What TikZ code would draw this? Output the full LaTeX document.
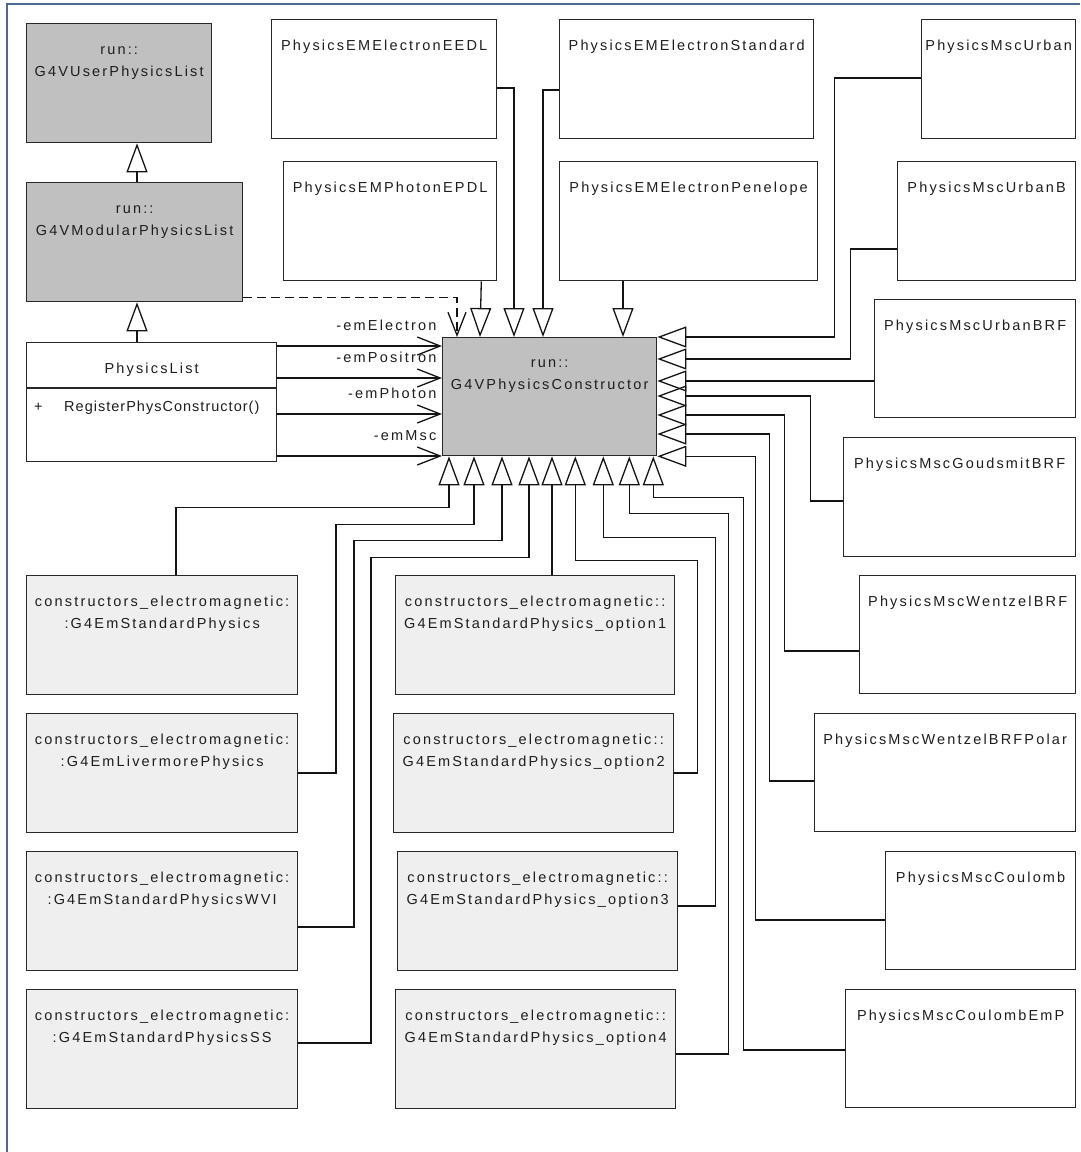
\documentclass[tikz,border=0pt]{standalone}
\usepackage{fontspec}
\setmainfont{Liberation Sans}[LetterSpace=15]
\usetikzlibrary{arrows.meta}
\definecolor{frameblue}{RGB}{74,106,145}
\definecolor{boxline}{RGB}{40,40,40}
\definecolor{linecol}{RGB}{20,20,20}
\definecolor{txtcol}{RGB}{30,30,30}
\definecolor{abstractgray}{RGB}{192,192,192}
\definecolor{constgray}{RGB}{239,239,239}
\newcommand\st{\rule{0pt}{10pt}}
\begin{document}
\begin{tikzpicture}[x=1pt,y=-1pt,
  box/.style={draw=boxline, line width=1.3pt, rectangle, inner sep=0pt, anchor=north west, fill=white},
  abox/.style={box, fill=abstractgray},
  cbox/.style={box, fill=constgray},
  txt/.style={anchor=north, inner sep=0pt, align=center, font=\fontsize{14.5}{22}\selectfont, text=txtcol},
  lbl/.style={anchor=base east, inner sep=0pt, font=\fontsize{14.5}{22}\selectfont, text=txtcol},
  gen/.style={draw=linecol, line width=1.3pt, -{Triangle[open, length=29pt, width=21pt]}},
  assoc/.style={draw=linecol, line width=1.3pt, -{Straight Barb[length=23pt, width=18pt]}},
  dep/.style={assoc, dash pattern=on 9pt off 5pt},
  frm/.style={draw=frameblue, line width=1.6pt}
]
\useasboundingbox (0,0) rectangle (1080,1152);
\draw[frm] (7,1152) -- (7,4) -- (1080,4);

% ---- boxes ----
\node[abox, minimum width=185pt, minimum height=119pt] (uspl) at (26,23) {};
\node[abox, minimum width=216pt, minimum height=119pt] (mpl) at (26,182) {};
\node[box, minimum width=250pt, minimum height=119pt] (pl) at (26,342) {};
\node[box, minimum width=225pt, minimum height=119pt] (eedl) at (271,19) {};
\node[box, minimum width=213pt, minimum height=119pt] (epdl) at (283,161) {};
\node[box, minimum width=254pt, minimum height=119pt] (estd) at (559,19) {};
\node[box, minimum width=258pt, minimum height=119pt] (epen) at (559,161) {};
\node[box, minimum width=154pt, minimum height=119pt] (urban) at (921,19) {};
\node[box, minimum width=178pt, minimum height=119pt] (urbanb) at (897,161) {};
\node[box, minimum width=201pt, minimum height=118pt] (urbanbrf) at (874,299) {};
\node[box, minimum width=232pt, minimum height=119pt] (goud) at (843,437) {};
\node[box, minimum width=216pt, minimum height=118pt] (wentzel) at (859,575) {};
\node[box, minimum width=261pt, minimum height=118pt] (wentzelp) at (814,713) {};
\node[box, minimum width=190pt, minimum height=118pt] (coul) at (885,851) {};
\node[box, minimum width=230pt, minimum height=118pt] (coulemp) at (845,989) {};
\node[abox, minimum width=214pt, minimum height=118pt] (pc) at (442,337) {};
\node[cbox, minimum width=271pt, minimum height=119pt] (std) at (26,575) {};
\node[cbox, minimum width=271pt, minimum height=119pt] (liv) at (26,713) {};
\node[cbox, minimum width=271pt, minimum height=119pt] (wvi) at (26,851) {};
\node[cbox, minimum width=271pt, minimum height=119pt] (ss) at (26,989) {};
\node[cbox, minimum width=279pt, minimum height=119pt] (opt1) at (395,575) {};
\node[cbox, minimum width=280pt, minimum height=119pt] (opt2) at (393,713) {};
\node[cbox, minimum width=280pt, minimum height=119pt] (opt3) at (397,851) {};
\node[cbox, minimum width=280pt, minimum height=119pt] (opt4) at (395,989) {};

% ---- texts ----
\node[txt] (uspl-t) at ([yshift=-21pt]uspl.north) {\st run::\\G4VUserPhysicsList};
\node[txt] (mpl-t) at ([yshift=-21pt]mpl.north) {\st run::\\G4VModularPhysicsList};
\node[txt] (pl-t) at ([yshift=-21pt]pl.north) {\st PhysicsList};
\draw[draw=boxline, line width=1.3pt] ([yshift=-46pt]pl.north west) -- ([yshift=-46pt]pl.north east);
\node[lbl, anchor=base west] (pl-plus) at ([xshift=8pt,yshift=-69pt]pl.north west) {+};
\node[lbl, anchor=base west] (pl-m) at ([xshift=38pt,yshift=-69pt]pl.north west) {\addfontfeature{LetterSpace=7}RegisterPhysConstructor()};
\node[txt] (pc-t) at ([yshift=-20pt]pc.north) {\st run::\\G4VPhysicsConstructor};
\node[txt] (eedl-t) at ([yshift=-21pt]eedl.north) {\st PhysicsEMElectronEEDL};
\node[txt] (epdl-t) at ([yshift=-21pt]epdl.north) {\st PhysicsEMPhotonEPDL};
\node[txt] (estd-t) at ([yshift=-21pt]estd.north) {\st PhysicsEMElectronStandard};
\node[txt] (epen-t) at ([yshift=-21pt]epen.north) {\st PhysicsEMElectronPenelope};
\node[txt] (urban-t) at ([yshift=-21pt]urban.north) {\st PhysicsMscUrban};
\node[txt] (urbanb-t) at ([yshift=-21pt]urbanb.north) {\st PhysicsMscUrbanB};
\node[txt] (urbanbrf-t) at ([yshift=-21pt]urbanbrf.north) {\st PhysicsMscUrbanBRF};
\node[txt] (goud-t) at ([yshift=-21pt]goud.north) {\st PhysicsMscGoudsmitBRF};
\node[txt] (wentzel-t) at ([yshift=-21pt]wentzel.north) {\st PhysicsMscWentzelBRF};
\node[txt] (wentzelp-t) at ([yshift=-21pt]wentzelp.north) {\st PhysicsMscWentzelBRFPolar};
\node[txt] (coul-t) at ([yshift=-21pt]coul.north) {\st PhysicsMscCoulomb};
\node[txt] (coulemp-t) at ([yshift=-21pt]coulemp.north) {\st PhysicsMscCoulombEmP};
\node[txt] (std-t) at ([yshift=-21pt]std.north) {\st constructors\_electromagnetic:\\:G4EmStandardPhysics};
\node[txt] (liv-t) at ([yshift=-21pt]liv.north) {\st constructors\_electromagnetic:\\:G4EmLivermorePhysics};
\node[txt] (wvi-t) at ([yshift=-21pt]wvi.north) {\st constructors\_electromagnetic:\\:G4EmStandardPhysicsWVI};
\node[txt] (ss-t) at ([yshift=-21pt]ss.north) {\st constructors\_electromagnetic:\\:G4EmStandardPhysicsSS};
\node[txt] (opt1-t) at ([yshift=-21pt]opt1.north) {\st constructors\_electromagnetic::\\G4EmStandardPhysics\_option1};
\node[txt] (opt2-t) at ([yshift=-21pt]opt2.north) {\st constructors\_electromagnetic::\\G4EmStandardPhysics\_option2};
\node[txt] (opt3-t) at ([yshift=-21pt]opt3.north) {\st constructors\_electromagnetic::\\G4EmStandardPhysics\_option3};
\node[txt] (opt4-t) at ([yshift=-21pt]opt4.north) {\st constructors\_electromagnetic::\\G4EmStandardPhysics\_option4};

% ---- inheritance on the left ----
\draw[gen] ([xshift=111pt]mpl.north west) -- ([xshift=111pt]uspl.south west);
\draw[gen] ([xshift=111pt]pl.north west) -- ([xshift=111pt]mpl.south west);

% ---- dependency ----
\draw[dep] ([yshift=5pt]mpl.south east) -| ([xshift=15pt]pc.north west);

% ---- associations ----
\draw[assoc] ([yshift=-4pt]pl.north east) -- ([yshift=-9pt]pc.north west)
  node[lbl, pos=1, xshift=-5pt, yshift=15.5pt] (lb1) {-emElectron};
\draw[assoc] ([yshift=-36pt]pl.north east) -- ([yshift=-41pt]pc.north west)
  node[lbl, pos=1, xshift=-5pt, yshift=15.5pt] (lb2) {-emPositron};
\draw[assoc] ([yshift=-72pt]pl.north east) -- ([yshift=-77pt]pc.north west)
  node[lbl, pos=1, xshift=-5pt, yshift=15.5pt] (lb3) {-emPhoton};
\draw[assoc] ([yshift=-114pt]pl.north east) -- ([yshift=-119pt]pc.north west)
  node[lbl, pos=1, xshift=-5pt, yshift=15.5pt] (lb4) {-emMsc};

% ---- top generalizations ----
\draw[gen] ([yshift=-69pt]eedl.north east) -| ([xshift=72pt]pc.north west);
\draw[gen] ([xshift=-16pt]epdl.south east) -- ([xshift=38pt]pc.north west);
\draw[gen] ([yshift=-71pt]estd.north west) -| ([xshift=101pt]pc.north west);
\draw[gen] ([xshift=64pt]epen.south west) -- ([xshift=181pt]pc.north west);

% ---- right generalizations ----
\draw[gen] ([yshift=-59pt]urban.north west) -| ([xshift=177pt]pc.north east) -- (pc.north east);
\draw[gen] ([yshift=-88pt]urbanb.north west) -| ([xshift=193pt,yshift=-22pt]pc.north east) -- ([yshift=-22pt]pc.north east);
\draw[gen] ([yshift=-82pt]urbanbrf.north west) -- ([yshift=-44pt]pc.north east);
\draw[gen] ([yshift=-64pt]goud.north west) -| ([xshift=153pt,yshift=-59pt]pc.north east) -- ([yshift=-59pt]pc.north east);
\draw[gen] ([yshift=-76pt]wentzel.north west) -| ([xshift=127pt,yshift=-78pt]pc.north east) -- ([yshift=-78pt]pc.north east);
\draw[gen] ([yshift=-68pt]wentzelp.north west) -| ([xshift=112pt,yshift=-97pt]pc.north east) -- ([yshift=-97pt]pc.north east);
\draw[gen] ([yshift=-69pt]coul.north west) -| ([xshift=98pt]pc.south east) -- (pc.south east);

% ---- bottom generalizations ----
\draw[gen] ([yshift=-61pt]coulemp.north west) -| ([xshift=86pt,yshift=-41pt]pc.south east) -| ([xshift=-4pt]pc.south east);
\draw[gen] ([xshift=150pt]std.north west) |- ([xshift=7pt,yshift=-51pt]pc.south west) -- ([xshift=7pt]pc.south west);
\draw[gen] ([yshift=-60pt]liv.north east) -| ([xshift=-106pt,yshift=-68pt]pc.south west) -| ([xshift=32pt]pc.south west);
\draw[gen] ([yshift=-76pt]wvi.north east) -| ([xshift=-88pt,yshift=-84pt]pc.south west) -| ([xshift=60pt]pc.south west);
\draw[gen] ([yshift=-54pt]ss.north east) -| ([xshift=-71pt,yshift=-101pt]pc.south west) -| ([xshift=87pt]pc.south west);
\draw[gen] ([xshift=157pt]opt1.north west) -- ([xshift=110pt]pc.south west);
\draw[gen] ([yshift=-60pt]opt2.north east) -| ([xshift=40pt,yshift=-104pt]pc.south east) -| ([xshift=-82pt]pc.south east);
\draw[gen] ([yshift=-55pt]opt3.north east) -| ([xshift=58pt,yshift=-81pt]pc.south east) -| ([xshift=-54pt]pc.south east);
\draw[gen] ([yshift=-65pt]opt4.north east) -| ([xshift=71pt,yshift=-57pt]pc.south east) -| ([xshift=-28pt]pc.south east);
\end{tikzpicture}
\end{document}
